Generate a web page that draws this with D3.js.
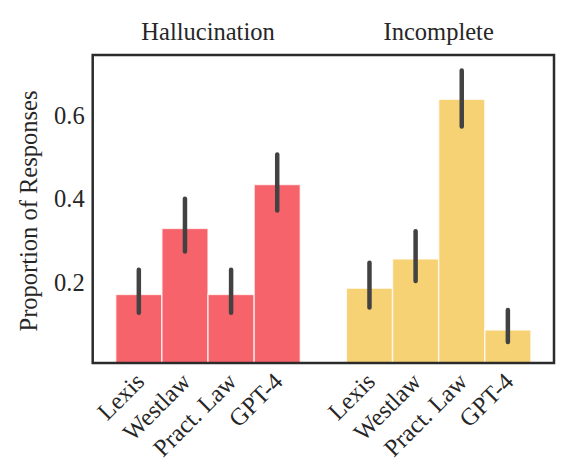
<!DOCTYPE html>
<html>
<head>
<meta charset="utf-8">
<script src="https://cdn.jsdelivr.net/npm/d3@7"></script>
<style>
  body { margin: 0; background: #fff; }
  text { font-family: "Liberation Serif", "Times New Roman", serif; fill: #262626; }
</style>
</head>
<body>
<div id="chart"></div>
<script>
// groups and models on the x axis
const groups = ["Hallucination", "Incomplete"];
const models = ["Lexis", "Westlaw", "Pract. Law", "GPT-4"];

// bar heights (proportion of responses)
const hallucination = [0.171, 0.329, 0.171, 0.434];
const incomplete = [0.186, 0.256, 0.638, 0.086];

// error bar ranges [low, high]
const hallucinationErr = [[0.127, 0.230], [0.274, 0.400], [0.127, 0.230], [0.372, 0.506]];
const incompleteErr = [[0.140, 0.247], [0.203, 0.322], [0.573, 0.707], [0.057, 0.134]];

const yTicks = [0.2, 0.4, 0.6];
const groupColors = ["#f7636a", "#f7d274"];

(function () {
  const width = 575, height = 475;
  const margin = { top: 55, right: 21, bottom: 112, left: 92.7 };
  const fontSize = "24.5px";

  const svg = d3.select("#chart").append("svg")
    .attr("width", width)
    .attr("height", height);

  const x0 = d3.scaleBand()
    .domain(groups)
    .range([margin.left, width - margin.right])
    .padding(0);

  const x1 = d3.scaleBand()
    .domain(models)
    .range([0, x0.bandwidth()])
    .paddingInner(0)
    .paddingOuter(0.5);

  const y = d3.scaleLinear()
    .domain([0.007, 0.744])
    .range([height - margin.bottom, margin.top]);

  const values = [hallucination, incomplete];
  const errs = [hallucinationErr, incompleteErr];

  const rows = [];
  groups.forEach((g, gi) => {
    models.forEach((m, mi) => {
      rows.push({ group: g, gi, model: m, value: values[gi][mi], err: errs[gi][mi] });
    });
  });

  // bars
  svg.append("g").selectAll("rect")
    .data(rows)
    .join("rect")
    .attr("x", d => x0(d.group) + x1(d.model))
    .attr("y", d => y(d.value))
    .attr("width", x1.bandwidth())
    .attr("height", d => y.range()[0] - y(d.value))
    .attr("fill", d => groupColors[d.gi])
    .attr("stroke", "#fff")
    .attr("stroke-opacity", 0.75)
    .attr("stroke-width", 1.4);

  // error bars
  svg.append("g").selectAll("line")
    .data(rows)
    .join("line")
    .attr("x1", d => x0(d.group) + x1(d.model) + x1.bandwidth() / 2)
    .attr("x2", d => x0(d.group) + x1(d.model) + x1.bandwidth() / 2)
    .attr("y1", d => y(d.err[0]))
    .attr("y2", d => y(d.err[1]))
    .attr("stroke", "#424242")
    .attr("stroke-width", 4.5)
    .attr("stroke-linecap", "round");

  // frame
  svg.append("rect")
    .attr("x", margin.left)
    .attr("y", margin.top)
    .attr("width", width - margin.right - margin.left)
    .attr("height", height - margin.bottom - margin.top)
    .attr("fill", "none")
    .attr("stroke", "#2b2b2b")
    .attr("stroke-width", 2.5);

  // y axis (labels only)
  const yAxis = svg.append("g")
    .attr("transform", `translate(${margin.left},0)`)
    .call(d3.axisLeft(y).tickValues(yTicks).tickSize(0).tickPadding(8).tickFormat(d3.format(".1f")));
  yAxis.select(".domain").remove();
  yAxis.selectAll("text")
    .style("font-family", "'Liberation Serif', serif")
    .style("font-size", fontSize)
    .attr("fill", "#262626");

  // x tick labels, rotated
  svg.append("g").selectAll("text")
    .data(rows)
    .join("text")
    .attr("transform", d => {
      const cx = x0(d.group) + x1(d.model) + x1.bandwidth() / 2 + 7;
      return `translate(${cx},${height - margin.bottom + 20}) rotate(-45)`;
    })
    .attr("text-anchor", "end")
    .style("font-size", fontSize)
    .text(d => d.model);

  // group titles
  svg.append("g").selectAll("text")
    .data(groups)
    .join("text")
    .attr("x", d => x0(d) + x0.bandwidth() / 2)
    .attr("y", 40)
    .attr("text-anchor", "middle")
    .style("font-size", fontSize)
    .text(d => d);

  // y label
  svg.append("text")
    .attr("transform", `translate(37,${(margin.top + height - margin.bottom) / 2 + 2}) rotate(-90)`)
    .attr("text-anchor", "middle")
    .style("font-size", fontSize)
    .text("Proportion of Responses");
})();
</script>
</body>
</html>
